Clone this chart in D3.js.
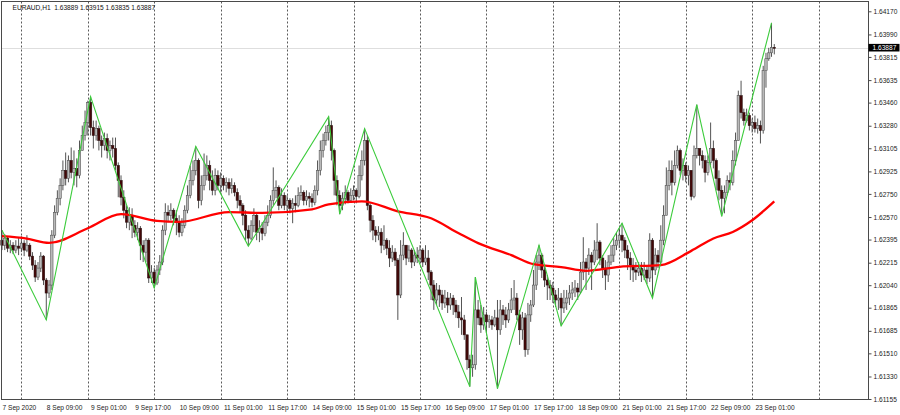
<!DOCTYPE html>
<html><head><meta charset="utf-8">
<script src="https://cdn.jsdelivr.net/npm/d3@7"></script>
<style>
body{margin:0;background:#fff;}
svg{display:block;}
text{font-family:"Liberation Sans",Arial,sans-serif;}
</style>
</head><body>
<svg id="chart" width="900" height="415"></svg>
<script>
// ---------- DATA ----------
const symbolTitle = "EURAUD,H1";
const lastQuote = [1.63889, 1.63915, 1.63835, 1.63887]; // O H L C of last bar
// prices in points (0.00001) above 1.60000
const firstOpen = 2390;
const closes = [
2351,2406,2328,2351,2313,2344,2328,2367,2313,2351,
2266,2196,2103,2173,2266,2080,1979,2041,2429,2607,
2716,2816,2933,2871,3010,2917,2948,2894,3088,3204,
3305,3460,3266,3204,3258,3165,3126,3181,3088,3126,
3103,2971,2855,2724,2623,2530,2584,2506,2452,2483,
2351,2297,2390,2096,2142,2057,2158,2220,2468,2607,
2584,2623,2561,2530,2452,2506,2623,2739,2855,2933,
3010,2700,2816,2894,2971,2855,2778,2894,2816,2871,
2816,2840,2793,2816,2762,2700,2661,2584,2468,2406,
2506,2584,2452,2483,2444,2530,2584,2700,2778,2801,
2661,2739,2661,2700,2638,2677,2661,2739,2762,2700,
2731,2716,2685,2778,2933,3088,3165,3227,3281,3088,
2855,2739,2661,2716,2762,2700,2739,2778,2731,2894,
3010,3165,2661,2545,2468,2429,2452,2351,2390,2328,
2251,2297,2235,1964,2274,2351,2251,2313,2220,2274,
2251,2313,2220,2251,2142,2041,1925,2003,1964,1902,
1940,1886,1940,1886,1832,1786,1770,1654,1460,1398,
1421,1848,1786,1731,1809,1755,1770,1731,1786,1693,
1848,1809,1770,1848,1925,1940,1809,1693,1786,1538,
1809,1886,2041,2220,2274,2158,2080,2041,2018,1964,
1925,1940,1863,1902,1940,1979,2003,2018,1987,2142,
2220,2173,2274,2220,2313,2375,2251,2173,2119,2220,
2274,2351,2390,2429,2390,2313,2251,2196,2158,2142,
2173,2119,2158,2096,2390,2158,2274,2220,2390,2584,
2816,2933,2840,2971,3088,2933,2971,2894,2933,2731,
3049,3103,3049,3010,2917,2995,3103,3010,2871,2778,
2716,2762,2855,2840,3010,3165,3514,3382,3320,3359,
3281,3305,3258,3281,3243,3708,3801,3847,3889,3887
];
const highs = [
2468,2437,2421,2390,2375,2390,2406,2421,2390,2429,
2367,2297,2235,2220,2297,2274,2096,2080,2468,2661,
2778,2871,3010,3072,3049,3111,3088,3026,3165,3281,
3398,3475,3506,3320,3320,3281,3204,3227,3219,3165,
3188,3188,2995,2894,2778,2661,2646,2638,2545,2530,
2500,2390,2406,2406,2196,2173,2196,2274,2506,2677,
2661,2677,2638,2623,2584,2561,2661,2816,2971,3010,
3119,3026,2894,3064,3049,3010,2933,2948,2933,2917,
2894,2878,2871,2871,2840,2793,2739,2677,2623,2506,
2545,2638,2607,2545,2530,2584,2661,2739,2956,2855,
2816,2793,2762,2739,2716,2716,2739,2801,2816,2778,
2778,2762,2754,2816,3010,3165,3219,3281,3351,3320,
3103,2894,2778,2762,2816,2778,2793,2816,2793,2971,
3088,3258,3204,2677,2584,2499,2499,2483,2506,2406,
2390,2351,2328,2251,2390,2452,2351,2351,2328,2313,
2336,2351,2328,2351,2313,2158,2080,2057,2041,2003,
2003,1987,1979,1964,1925,1886,1948,1809,1654,1499,
1499,2103,1925,1886,1871,1832,1809,1801,1848,1925,
1925,1886,1871,1902,2018,2080,1979,1848,1832,1824,
1902,1925,2158,2274,2351,2290,2196,2119,2080,2065,
2003,2018,1979,2003,2003,2041,2065,2080,2057,2220,
2413,2251,2328,2297,2390,2522,2390,2274,2235,2274,
2351,2406,2452,2483,2522,2413,2351,2297,2251,2220,
2220,2220,2220,2196,2444,2406,2328,2313,2506,2661,
2956,3010,3010,3088,3126,3103,3026,2995,2971,2933,
3126,3444,3103,3088,3049,3049,3305,3165,3026,2933,
2816,2816,2894,2917,3088,3227,3553,3630,3413,3413,
3382,3336,3359,3336,3320,3746,3847,3886,4080,3915
];
const lows = [
2313,2313,2297,2289,2282,2289,2274,2297,2266,2297,
2235,2158,2065,2080,2142,2041,1770,1940,2003,2406,
2584,2661,2778,2816,2840,2871,2816,2801,2871,3088,
3165,3204,3204,3103,3165,3088,3033,3088,3026,3010,
3033,2933,2724,2661,2560,2483,2468,2406,2413,2390,
2235,2220,2220,2057,2057,2018,2041,2119,2196,2429,
2530,2545,2506,2429,2413,2421,2483,2599,2716,2816,
2894,2638,2661,2778,2855,2778,2739,2739,2778,2754,
2778,2762,2739,2754,2731,2638,2607,2506,2390,2344,
2390,2452,2390,2375,2390,2421,2499,2561,2661,2716,
2623,2638,2623,2607,2599,2522,2607,2646,2700,2661,
2661,2646,2646,2661,2739,2894,3033,3126,3165,3010,
2739,2661,2592,2623,2669,2677,2685,2700,2677,2716,
2855,2971,2623,2452,2390,2375,2390,2289,2313,2274,
2181,2220,2189,1770,1940,2235,2196,2220,2173,2189,
2212,2220,2181,2196,2080,1925,1848,1886,1871,1848,
1863,1824,1848,1809,1786,1708,1654,1615,1383,1251,
1328,1383,1731,1669,1693,1669,1708,1693,1716,1235,
1654,1731,1708,1747,1824,1848,1770,1576,1615,1483,
1499,1755,1870,2003,2158,2096,2026,1925,1925,1902,
1871,1848,1724,1824,1848,1886,1925,1948,1925,1972,
2080,2003,2119,2003,2196,2235,2196,2096,2003,2065,
2196,2220,2313,2328,2297,2251,2158,2080,2065,2080,
2111,2065,2080,2049,2065,1940,2119,2173,2196,2351,
2584,2778,2739,2816,2948,2894,2855,2840,2816,2700,
2716,3026,2971,2948,2840,2894,2971,2948,2778,2700,
2576,2599,2739,2778,2816,2971,3165,3336,3281,3305,
3243,3227,3227,3219,3142,3219,3576,3785,3816,3835
];
const zigzagBars = [0,16,32,55,70,89,118,122,131,169,171,179,194,202,224,235,251,260,278];
const zigzagPts  = [2468,1770,3506,2018,3119,2344,3351,2592,3258,1251,2103,1235,2351,1724,2522,1940,3444,2576,4080];
const maBars = [0,9,17,31,43,56,64,82,94,112,118,130,143,155,165,172,184,192,202,211,223,238,249,257,264,271,279];
const maPts  = [2421,2402,2369,2483,2592,2540,2532,2609,2602,2630,2669,2692,2615,2561,2444,2367,2274,2204,2181,2152,2183,2196,2307,2403,2454,2545,2692];
const priceTicks = [1.64170,1.63990,1.63815,1.63635,1.63460,1.63280,1.63105,1.62925,1.62750,1.62570,1.62395,1.62215,1.62040,1.61865,1.61685,1.61510,1.61330,1.61155];
const timeLabelBars = [0,16,32,48,64,80,96,112,128,144,160,176,192,208,224,240,256,272];
const timeLabels = ["7 Sep 2020","8 Sep 09:00","9 Sep 01:00","9 Sep 17:00","10 Sep 09:00","11 Sep 01:00","11 Sep 17:00","14 Sep 09:00","15 Sep 01:00","15 Sep 17:00","16 Sep 09:00","17 Sep 01:00","17 Sep 17:00","18 Sep 09:00","21 Sep 01:00","21 Sep 17:00","22 Sep 09:00","23 Sep 01:00"];
const gridBars = [7,31,55,79,103,127,151,175,199,223,247,271,295];

// ---------- LAYOUT ----------
const svg = d3.select("#chart");
const plot = {left:1.5, top:1.5, right:868.5, bottom:399.5};
const toPrice = p => 1.6 + p/1e5;

const x = d3.scaleLinear().domain([0, 313]).range([2, 868.4]);
const y = d3.scaleLinear().domain([1.61155, 1.64170]).range([399, 11.3]);

// vertical dotted grid
svg.append("g").selectAll("line").data(gridBars).join("line")
  .attr("x1", d => Math.round(x(d)) + 0.5).attr("x2", d => Math.round(x(d)) + 0.5)
  .attr("y1", plot.top).attr("y2", plot.bottom)
  .attr("stroke", "#5a5a5a").attr("stroke-width", 1).attr("stroke-dasharray", "2,2");

// current price line
svg.append("line")
  .attr("x1", plot.left).attr("x2", plot.right)
  .attr("y1", Math.round(y(lastQuote[3])) + 0.5).attr("y2", Math.round(y(lastQuote[3])) + 0.5)
  .attr("stroke", "#bdbdbd").attr("stroke-dasharray", "1,1");

// candles
const n = closes.length;
const bars = d3.range(n).map(i => ({
  i, o: toPrice(i === 0 ? firstOpen : closes[i-1]), h: toPrice(highs[i]),
  l: toPrice(lows[i]), c: toPrice(closes[i])
}));
const cg = svg.append("g");
cg.selectAll("line").data(bars).join("line")
  .attr("x1", d => x(d.i)).attr("x2", d => x(d.i))
  .attr("y1", d => y(d.h)).attr("y2", d => y(d.l))
  .attr("stroke", "#404040").attr("stroke-width", 0.9);
cg.selectAll("rect").data(bars).join("rect")
  .attr("x", d => x(d.i) - 1.2).attr("width", 2.4)
  .attr("y", d => y(Math.max(d.o, d.c)))
  .attr("height", d => Math.max(0.8, Math.abs(y(d.o) - y(d.c))))
  .attr("fill", d => d.c >= d.o ? "#b9b9b9" : "#420808")
  .attr("stroke", d => d.c >= d.o ? "#505050" : "#2a1010")
  .attr("stroke-width", 0.55);

// moving average
svg.append("path")
  .datum(maBars.map((b, k) => [b, toPrice(maPts[k])]))
  .attr("fill", "none").attr("stroke", "#ff0000").attr("stroke-width", 2.3)
  .attr("d", d3.line().x(d => x(d[0])).y(d => y(d[1])).curve(d3.curveMonotoneX));

// zigzag
svg.append("path")
  .datum(zigzagBars.map((b, k) => [b, toPrice(zigzagPts[k])]))
  .attr("fill", "none").attr("stroke", "#3ccc3c").attr("stroke-width", 1.1)
  .attr("d", d3.line().x(d => x(d[0])).y(d => y(d[1])));

// frame
svg.append("rect").attr("x", plot.left).attr("y", plot.top)
  .attr("width", plot.right - plot.left).attr("height", plot.bottom - plot.top)
  .attr("fill", "none").attr("stroke", "#4a4a4a");

// price axis
const ya = svg.append("g").attr("transform", `translate(${plot.right},0)`)
  .call(d3.axisRight(y).tickValues(priceTicks).tickSize(3).tickPadding(2).tickFormat(d3.format(".5f")));
ya.select(".domain").remove();
ya.selectAll("line").attr("stroke", "#4a4a4a");
ya.selectAll("text").attr("font-size", "6.6px").attr("fill", "#222").attr("font-family", "Liberation Sans, Arial, sans-serif");

// time axis
const xa = svg.append("g").attr("transform", `translate(0,${plot.bottom})`)
  .call(d3.axisBottom(x).tickValues(timeLabelBars).tickSize(0).tickPadding(6)
    .tickFormat((d, k) => timeLabels[k]));
xa.select(".domain").remove();
xa.selectAll("text").attr("text-anchor", "start").attr("font-size", "6.6px").attr("fill", "#222")
  .attr("font-family", "Liberation Sans, Arial, sans-serif");

// current price tag
const py = y(lastQuote[3]);
svg.append("rect").attr("x", plot.right).attr("y", py - 3.8).attr("width", 31).attr("height", 7.6).attr("fill", "#000");
svg.append("text").attr("x", plot.right + 4).attr("y", py + 2.4)
  .attr("font-size", "6.6px").attr("fill", "#fff").text(d3.format(".5f")(lastQuote[3]));

// header
svg.append("text").attr("x", 12.5).attr("y", 10.2).attr("font-size", "6.6px").attr("fill", "#111")
  .style("white-space", "pre")
  .text(`${symbolTitle}\u00a0\u00a0${lastQuote.map(d3.format(".5f")).join(" ")}`);
</script>
</body></html>
